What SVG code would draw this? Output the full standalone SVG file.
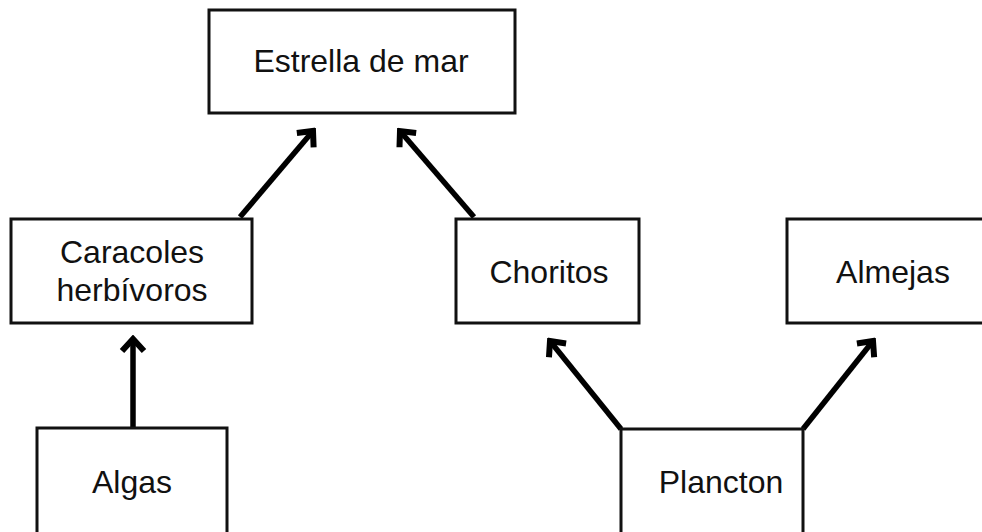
<svg xmlns="http://www.w3.org/2000/svg" width="982" height="532" viewBox="0 0 982 532">
<defs>
<style>
.box{fill:#fff;stroke:#111;stroke-width:3}
.lbl{font-family:"Liberation Sans",Arial,sans-serif;font-size:32px;fill:#111;text-anchor:middle}
.arr{fill:none;stroke:#000;stroke-width:5.5;marker-end:url(#head)}
</style>
<marker id="head" markerUnits="userSpaceOnUse" viewBox="-20 -15 24 30" refX="0" refY="0" markerWidth="24" markerHeight="30" orient="auto">
<path d="M -12 -11 L 0 0 L -12 11" fill="none" stroke="#000" stroke-width="6" stroke-linejoin="miter"/>
</marker>
</defs>
<rect width="982" height="532" fill="#fff"/>
<g id="connectors">
<path class="arr" d="M 133 428 L 133 339"/>
<path class="arr" d="M 240 217 L 313 131"/>
<path class="arr" d="M 474 217 L 400 131"/>
<path class="arr" d="M 621 429 L 550 341"/>
<path class="arr" d="M 803 429 L 873 341"/>
</g>
<g id="estrella">
<rect class="box" x="209" y="10" width="306" height="103"/>
<text class="lbl" x="361" y="72">Estrella de mar</text>
</g>
<g id="caracoles">
<rect class="box" x="11" y="219" width="241" height="104"/>
<text class="lbl" x="132" y="263">Caracoles</text>
<text class="lbl" x="132" y="301">herbívoros</text>
</g>
<g id="choritos">
<rect class="box" x="456" y="219" width="183" height="104"/>
<text class="lbl" x="549" y="283">Choritos</text>
</g>
<g id="almejas">
<rect class="box" x="787" y="219" width="220" height="104"/>
<text class="lbl" x="893" y="283">Almejas</text>
</g>
<g id="algas">
<rect class="box" x="37" y="428" width="190" height="120"/>
<text class="lbl" x="132" y="493">Algas</text>
</g>
<g id="plancton">
<rect class="box" x="621" y="429" width="182" height="120"/>
<text class="lbl" x="721" y="493">Plancton</text>
</g>
</svg>
